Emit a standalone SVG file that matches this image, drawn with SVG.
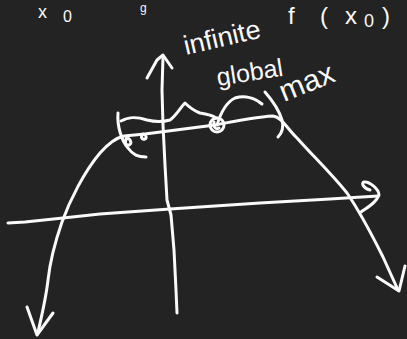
<svg xmlns="http://www.w3.org/2000/svg" width="407" height="339" viewBox="0 0 407 339">
<style>
.ink{fill:none;stroke:#fafafa;stroke-width:3;stroke-linecap:round;stroke-linejoin:round}
.hw{fill:#fafafa;font-family:"Liberation Sans","DejaVu Sans",sans-serif}
</style>
<rect width="407" height="339" fill="#232323"/>
<g id="top-text">
<text class="hw" font-size="18" x="38" y="18">x<tspan font-size="16" x="63" y="22">0</tspan></text>
<text class="hw" font-size="12" x="140" y="12">g</text>
<text class="hw" font-size="24" y="24"><tspan x="288">f</tspan><tspan x="320">(</tspan><tspan x="345">x</tspan><tspan font-size="18" x="364" y="27">0</tspan><tspan x="382" y="24">)</tspan></text>
</g>
<g id="labels">
<text id="infinite" class="hw" font-size="27" transform="translate(186,55) rotate(-13)">infinite</text>
<text id="global" class="hw" font-size="25" transform="translate(218,86) rotate(-9)">global</text>
<text id="max" class="hw" font-size="30" transform="translate(284,102) rotate(-22)">max</text>
</g>
<g id="connectors">
<g id="y-axis">
<path class="ink" d="M163,57 L162,90 L163,125 L165,165 L167,200 L171,215 L174,250 L176,290 L177,313"/>
<path class="ink" d="M147,78 L157,60 L163,55 L172,68"/>
</g>
<g id="x-axis">
<path class="ink" d="M8,223 L25,222 L63,218 L100,214 L170,209 L260,203 L330,199 L378,196"/>
<path class="ink" d="M370,190 C363,188 361,183 364,182 C369,181 379,189 379,195 C376,203 368,207 361,212"/>
</g>
<g id="parabola">
<path class="ink" d="M38,332 C42,315 46,298 48,280 C50,262 54,245 62,222 C70,200 84,172 100,153 C108,144 115,138 124,136 L145,134 C160,132 190,128 215,125 C235,121 255,117 273,116 C282,117 288,130 297,138 C312,155 330,172 347,193 C360,212 372,235 383,257 L398,290"/>
<path class="ink" d="M27,307 L37,335 L53,313"/>
<path class="ink" d="M377,277 L399,291 L405,266"/>
</g>
<g id="interval">
<path class="ink" d="M118,113 C117,125 121,140 128,148 C133,155 138,157 146,157"/>
<path class="ink" d="M128,136 C124,140 125,146 129,145 C132,144 131,140 128,138"/>
<path class="ink" d="M143,134 C140,137 142,140 145,139 C147,138 146,135 144,134"/>
<path class="ink" d="M265,92 C272,100 279,110 282,120 C284,128 282,133 278,137"/>
<path class="ink" d="M121,121 C128,117 135,116 147,120 C155,122 163,122 170,120 C176,116 180,108 185,103 C188,106 192,110 200,113 C207,114 212,115 216,118"/>
<path class="ink" d="M217,125 C220,115 225,103 235,98 C245,95 255,98 262,104"/>
</g>
<g id="max-point">
<circle class="ink" cx="217" cy="125" r="7"/>
<path class="ink" d="M214,122 C213,127 216,130 219,128"/>
</g>
</g>
</svg>
